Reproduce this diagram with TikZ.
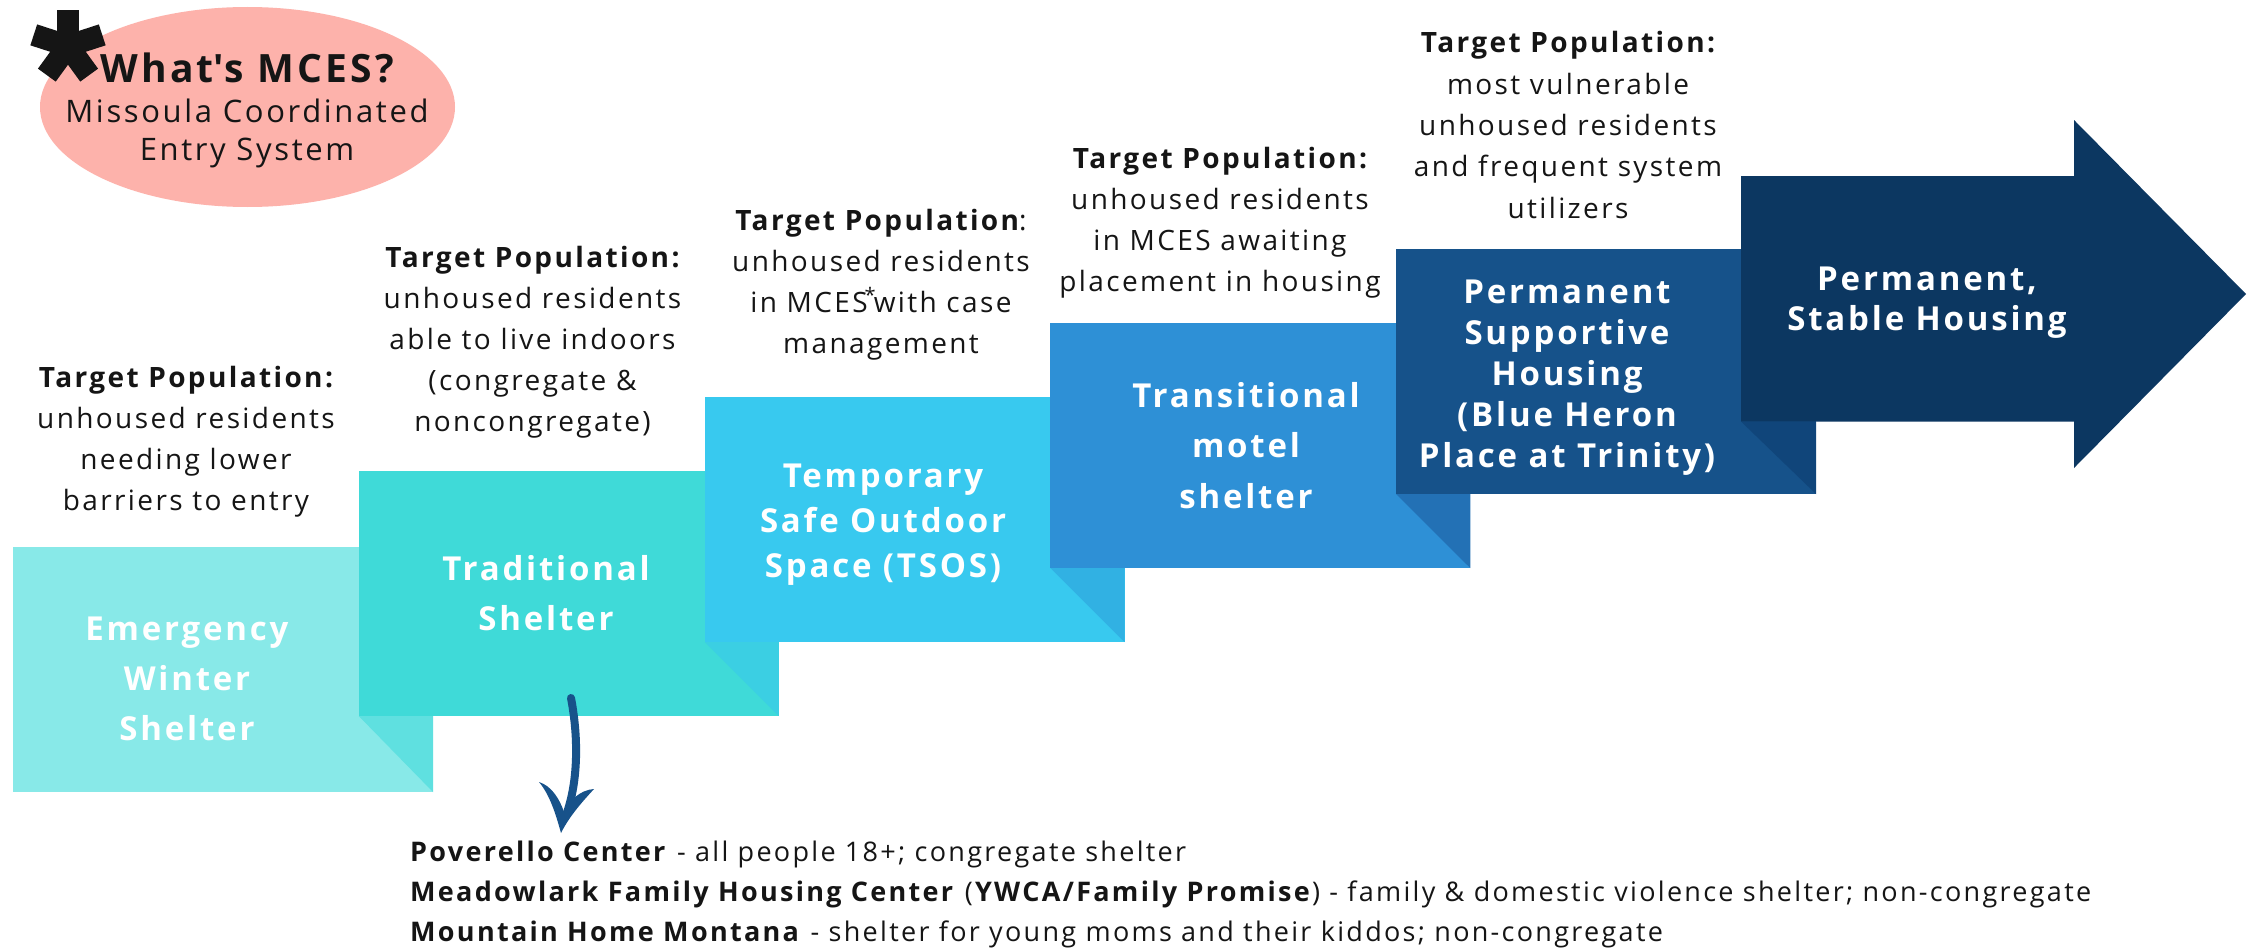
\documentclass[tikz,border=0pt]{standalone}
\usepackage{fontspec}
\setmainfont{Open Sans}[LetterSpace=8.5]
\usetikzlibrary{shapes.geometric}
\definecolor{bxA}{HTML}{88E9E8}
\definecolor{bxB}{HTML}{3FDAD8}
\definecolor{bxC}{HTML}{38C9EF}
\definecolor{bxD}{HTML}{2E90D6}
\definecolor{bxE}{HTML}{16528A}
\definecolor{bxF}{HTML}{0C3761}
\definecolor{fdA}{HTML}{5FE0E0}
\definecolor{fdB}{HTML}{3BCFE3}
\definecolor{fdC}{HTML}{31B1E3}
\definecolor{fdD}{HTML}{2371B5}
\definecolor{fdE}{HTML}{10457A}
\definecolor{pinkbg}{HTML}{FDB2AB}
\definecolor{ink}{HTML}{151515}
\definecolor{downarrow}{HTML}{17528A}
\newcommand\putlines[6]{%
  \foreach \lineText [count=\lineIdx] in {#6}{%
    \node[#2, anchor=base, inner sep=0pt] (#1-\lineIdx) at ({#3},{#4+(\lineIdx-1)*#5}) {\lineText};}}
\tikzset{
  tp/.style={font=\fontsize{28}{34}\selectfont, text=ink},
  ttl/.style={font=\fontsize{33}{40}\selectfont\bfseries, text=white},
  bot/.style={font=\fontsize{27}{32}\selectfont, text=ink, inner sep=0pt},
}
\begin{document}
\begin{tikzpicture}[x=1pt,y=-1pt]
\useasboundingbox (0,0) rectangle (2257,950);
\fill[white] (0,0) rectangle (2257,950);
% ellipse
\node[ellipse, fill=pinkbg, minimum width=415pt, minimum height=200pt, inner sep=0pt] (mces) at (247.5,107) {};
% asterisk
\foreach \ang in {0,72,144,216,288}{
  \draw[line width=22pt, ink] (68,46) -- ++({36*sin(\ang)},{-36*cos(\ang)});
}
\node[anchor=base, inner sep=0pt, font=\fontsize{39}{46}\selectfont\bfseries, text=ink] (what) at (247,82) {What\textquotesingle s MCES?};
\putlines{mcesdef}{font=\fontsize{31}{38}\selectfont, text=ink}{247}{122}{38}{{Missoula Coordinated},{Entry System}}
% boxes
\fill[bxA] (13,547) rectangle (433,792);
\fill[bxB] (358.75,471) rectangle (778.75,716);
\fill[fdA] (358.75,716) -- (433,716) -- (433,792) -- cycle;
\fill[bxC] (704.5,397) rectangle (1124.5,642);
\fill[fdB] (704.5,642) -- (778.75,642) -- (778.75,716) -- cycle;
\fill[bxD] (1050.25,323) rectangle (1470.25,568);
\fill[fdC] (1050.25,568) -- (1124.5,568) -- (1124.5,642) -- cycle;
\fill[bxE] (1396,249) rectangle (1816,494);
\fill[fdD] (1396,494) -- (1470.25,494) -- (1470.25,568) -- cycle;
\fill[bxF] (1741,176) -- (2074,176) -- (2074,120) -- (2246,294) -- (2074,468) -- (2074,421.5) -- (1741,421.5) -- cycle;
\fill[fdE] (1741,421.5) -- (1816,421.5) -- (1816,494) -- cycle;
% titles
\putlines{tA}{ttl}{187}{640}{50}{Emergency,Winter,Shelter}
\putlines{tB}{ttl}{546}{580}{50}{Traditional,Shelter}
\putlines{tC}{ttl}{883}{487}{45}{Temporary,{Safe Outdoor},{Space (TSOS)}}
\putlines{tD}{ttl}{1246}{407}{50.5}{Transitional,motel,shelter}
\putlines{tE}{ttl}{1567}{303}{41}{Permanent,Supportive,Housing,{(Blue Heron},{Place at Trinity)}}
\putlines{tF}{ttl}{1927}{290}{40}{{Permanent,},{Stable Housing}}
% target populations
\putlines{pA}{tp}{186}{387}{41.2}{{\bfseries Target Population:},{unhoused residents},{needing lower},{barriers to entry}}
\putlines{pB}{tp}{532.5}{267}{41.2}{{\bfseries Target Population:},{unhoused residents},{able to live indoors},{(congregate \&},{noncongregate)}}
\putlines{pC}{tp}{881}{230}{41.3}{{{\bfseries Target Population}:},{unhoused residents},{in MCES\kern-3pt{\fontsize{20}{20}\selectfont\raisebox{10pt}{*}}\kern-2pt with case},{management}}
\putlines{pD}{tp}{1220}{168.3}{41.1}{{\bfseries Target Population:},{unhoused residents},{in MCES awaiting},{placement in housing}}
\putlines{pE}{tp}{1568}{53}{41.3}{{\bfseries Target Population:},{most vulnerable},{unhoused residents},{and frequent system},{utilizers}}
% down arrow
\coordinate (dstart) at (571,698);
\coordinate (dtip) at (561,833);
\draw[downarrow, line width=8pt, line cap=round] (dstart) .. controls (579,740) and (578,785) .. (565,818);
\fill[downarrow] (539,782) .. controls (552,786) and (560,800) .. (564,812) .. controls (570,800) and (580,790) .. (594,789) .. controls (584,800) and (570,815) .. (dtip) .. controls (556,815) and (550,795) .. (539,782) -- cycle;
% bottom list
\node[bot, anchor=base west] (lA) at (410,861.7) {\textbf{Poverello Center} - all people 18+; congregate shelter};
\node[bot, anchor=base west] (lB) at (410,901.7) {\textbf{Meadowlark Family Housing Center} (\textbf{YWCA/Family Promise}) - family \& domestic violence shelter; non-congregate};
\node[bot, anchor=base west] (lC) at (410,941.7) {\textbf{Mountain Home Montana} - shelter for young moms and their kiddos; non-congregate};
\end{tikzpicture}
\end{document}
